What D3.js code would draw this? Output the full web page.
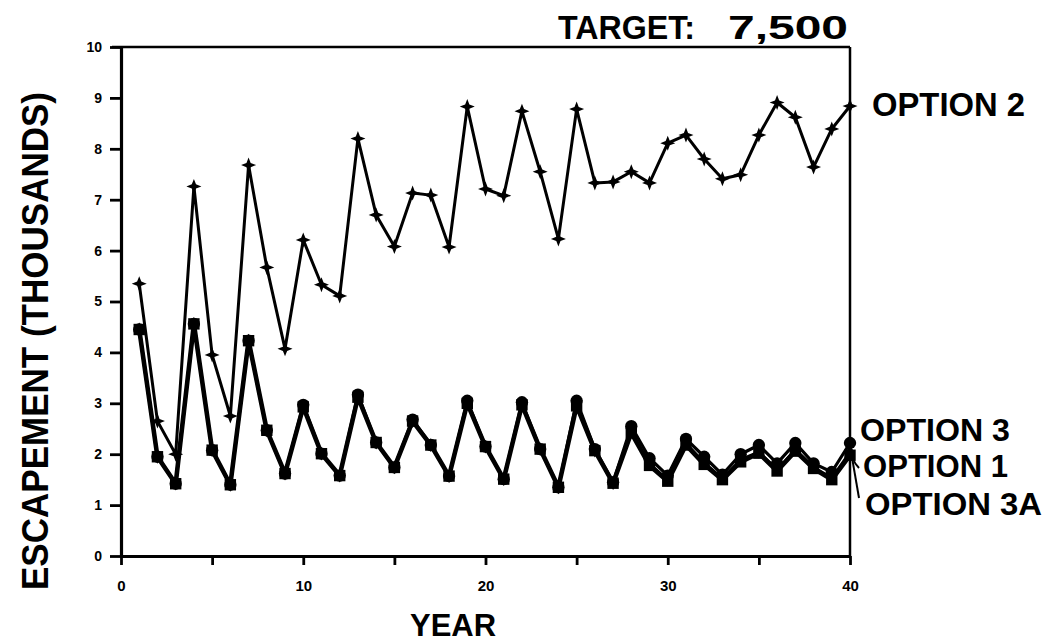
<!DOCTYPE html>
<html><head><meta charset="utf-8">
<script src="https://cdn.jsdelivr.net/npm/d3@7"></script>
<style>body{margin:0;background:#fff}svg{display:block}text{font-family:"Liberation Sans",Arial,sans-serif;font-weight:700;fill:#000}</style>
</head><body>
<svg id="c" width="1051" height="642"></svg>
<script>
const years = d3.range(1, 41);
const option2 = [5.35,2.65,2.00,7.26,3.95,2.75,7.68,5.67,4.07,6.21,5.33,5.11,8.20,6.70,6.08,7.13,7.09,6.07,8.83,7.21,7.08,8.74,7.55,6.23,8.78,7.33,7.35,7.55,7.33,8.11,8.27,7.80,7.41,7.49,8.27,8.91,8.62,7.64,8.39,8.84];
const option1 = [4.45,1.95,1.42,4.56,2.08,1.40,4.23,2.47,1.62,2.93,2.01,1.58,3.12,2.23,1.74,2.65,2.18,1.57,3.00,2.15,1.51,2.97,2.10,1.35,2.95,2.07,1.43,2.42,1.78,1.47,2.18,1.80,1.50,1.85,2.02,1.67,2.06,1.72,1.50,1.98];
const option3 = [4.45,1.95,1.42,4.56,2.08,1.40,4.23,2.47,1.62,2.97,2.01,1.58,3.17,2.23,1.74,2.68,2.18,1.57,3.05,2.15,1.51,3.02,2.10,1.35,3.05,2.10,1.45,2.55,1.92,1.58,2.30,1.95,1.60,2.00,2.18,1.82,2.22,1.82,1.65,2.22];
const option3a = [4.45,1.95,1.42,4.56,2.08,1.40,4.23,2.47,1.62,2.93,2.01,1.58,3.12,2.23,1.74,2.65,2.18,1.57,3.00,2.15,1.51,2.97,2.10,1.35,2.98,2.07,1.43,2.45,1.82,1.50,2.22,1.84,1.53,1.90,2.05,1.70,2.10,1.75,1.54,2.05];
const xTicks = [0,5,10,15,20,25,30,35,40];
const xTickLabels = ["0","","10","","20","","30","","40"];
const yTicks = [0,1,2,3,4,5,6,7,8,9,10];
const yTickLabels = ["0","1","2","3","4","5","6","7","8","9","10"];

const svg = d3.select("#c");
const x = d3.scaleLinear().domain([0, 40]).range([121, 850]);
const y = d3.scaleLinear().domain([0, 10]).range([556, 47]);

// frame (top & right)
svg.append("line").attr("x1", 112).attr("x2", x(40)).attr("y1", y(10)).attr("y2", y(10)).style("stroke", "#000").style("stroke-width", 2.5);
svg.append("line").attr("x1", x(40)).attr("x2", x(40)).attr("y1", y(10)).attr("y2", y(0)).style("stroke", "#000").style("stroke-width", 2.5);

// axes
const xAxis = d3.axisBottom(x).tickValues(xTicks).tickSize(9).tickSizeOuter(0).tickFormat((d, i) => xTickLabels[i]);
const gx = svg.append("g").attr("transform", `translate(0,${y(0)})`).call(xAxis);
gx.select(".domain").style("stroke", "#000").style("stroke-width", 3.2);
gx.selectAll(".tick line").style("stroke", "#000").style("stroke-width", 2.8);
gx.selectAll(".tick text").attr("dy", "1.5em").style("font-size", "15px").style("font-family", "Liberation Sans").style("font-weight", 700);

const yAxis = d3.axisLeft(y).tickValues(yTicks).tickSize(11).tickSizeOuter(0).tickFormat((d, i) => yTickLabels[i]);
const gy = svg.append("g").attr("transform", `translate(${x(0)},0)`).call(yAxis);
gy.select(".domain").style("stroke", "#000").style("stroke-width", 3.2);
gy.selectAll(".tick line").style("stroke", "#000").style("stroke-width", 2.8);
gy.selectAll(".tick text").attr("x", -19).style("font-size", "14px").style("font-family", "Liberation Sans").style("font-weight", 700);
svg.selectAll(".tick text").style("fill", "#000");

// four-point star symbol
const star4 = {
  draw(ctx, size) {
    const r = Math.sqrt(size) * 0.75, q = r * 0.28;
    ctx.moveTo(0, -r); ctx.lineTo(q, -q); ctx.lineTo(r, 0); ctx.lineTo(q, q);
    ctx.lineTo(0, r); ctx.lineTo(-q, q); ctx.lineTo(-r, 0); ctx.lineTo(-q, -q); ctx.closePath();
  }
};

const series = [
  {name: "Option 2", values: option2, width: 3.0, symbol: star4, size: 100},
  {name: "Option 3A", values: option3a, width: 2.4, symbol: d3.symbolDiamond, size: 55},
  {name: "Option 3", values: option3, width: 3.2, symbol: d3.symbolCircle, size: 120},
  {name: "Option 1", values: option1, width: 4.6, symbol: d3.symbolSquare, size: 130}
];

const line = d3.line().x((d, i) => x(years[i])).y(d => y(d));
series.forEach(s => {
  const g = svg.append("g");
  g.append("path").datum(s.values).attr("d", line).attr("fill", "none").attr("stroke", "#000")
    .attr("stroke-width", s.width).attr("stroke-linejoin", "round");
  g.selectAll("path.m").data(s.values).join("path").attr("class", "m")
    .attr("transform", (d, i) => `translate(${x(years[i])},${y(d)})`)
    .attr("d", d3.symbol().type(s.symbol).size(s.size)).attr("fill", "#000");
});

// leader lines for option 1 / 3A
svg.append("path").attr("d", `M${x(40)+9},${y(0)-88} q-4,-4 -6,-9`).attr("fill", "none").attr("stroke", "#000").attr("stroke-width", 2);
svg.append("path").attr("d", `M${x(40)+9},${y(0)-58} L${x(40)+1},${y(option3a[39])}`).attr("fill", "none").attr("stroke", "#000").attr("stroke-width", 2);

// texts
function label(t, x0, base, len, fs) {
  svg.append("text").attr("x", x0).attr("y", base).attr("font-size", fs)
    .attr("textLength", len).attr("lengthAdjust", "spacingAndGlyphs").text(t);
}
label("TARGET:", 558, 39, 137, 34);
label("7,500", 728, 39, 120, 34);
label("OPTION 2", 872, 116, 153, 33);
label("OPTION 3", 860, 441, 150, 31);
label("OPTION 1", 863, 477, 145, 31);
label("OPTION 3A", 865, 515, 177, 31);
label("YEAR", 410, 636, 86, 32);

svg.append("text").attr("transform", "translate(48,341) rotate(-90)").attr("text-anchor", "middle")
  .attr("font-size", 36).attr("textLength", 498).attr("lengthAdjust", "spacingAndGlyphs")
  .text("ESCAPEMENT (THOUSANDS)");
</script>
</body></html>
